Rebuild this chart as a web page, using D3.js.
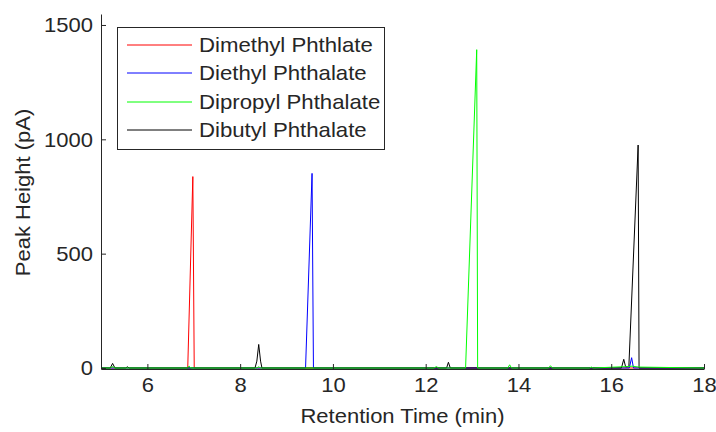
<!DOCTYPE html>
<html>
<head>
<meta charset="utf-8">
<script src="https://cdn.jsdelivr.net/npm/d3@7"></script>
<style>
  html, body { margin: 0; padding: 0; background: #fff; }
  svg { display: block; }
  text { font-family: "Liberation Sans", Arial, Helvetica, sans-serif; fill: #262626; }
</style>
</head>
<body>
<svg id="chart" width="716" height="432"></svg>
<script>
// ---- Data (retention time in min, peak height in pA) ----
const seriesNames = ["Dimethyl Phthlate", "Diethyl Phthalate", "Dipropyl Phthalate", "Dibutyl Phthalate"];
const seriesColors = ["#ff0000", "#0000ff", "#00ff00", "#000000"];

const dimethylTime = [5.0, 6.87, 6.98, 7.01, 18.0];
const dimethylPA   = [0,   0,    837,  0,    0];

const diethylTime = [5.0, 9.41, 9.55, 9.58, 16.39, 16.44, 16.48, 18.0];
const diethylPA   = [0,   0,    851,  0,    0,     45,    0,     0];

const dipropylTime = [5.0, 5.2, 5.25, 5.3, 6.86, 6.9, 6.94, 8.36, 8.4, 8.44, 12.18, 12.23, 12.28,
                      12.86, 13.10, 13.12, 13.77, 13.81, 13.85, 14.65, 14.69, 14.73, 15.53, 15.57, 15.61,
                      16.33, 16.45, 16.6, 18.0];
const dipropylPA   = [0,   0,   6,    0,   0,    8,   0,    0,    5,   0,    0,     6,     0,
                      0,     1392,  0,     0,     14,    0,     0,     10,    0,     0,     4,     0,
                      6,     8,     4,    0];

const dibutylTime = [5.0, 5.2, 5.25, 5.3, 5.53, 5.57, 5.61, 8.32, 8.36, 8.40, 8.44, 8.47,
                     12.45, 12.49, 12.53, 16.22, 16.27, 16.31, 16.38, 16.58, 16.60, 18.0];
const dibutylPA   = [0,   0,   20,   0,   0,    5,    0,    0,    30,   103,  30,   0,
                     0,     25,    0,     0,     38,    5,     6,     975,   0,     0];

const xTicks = [6, 8, 10, 12, 14, 16, 18];
const yTicks = [0, 500, 1000, 1500];

const xLabel = "Retention Time (min)";
const yLabel = "Peak Height (pA)";

// ---- Build series ----
const series = [
  {name: seriesNames[0], color: seriesColors[0], t: dimethylTime, v: dimethylPA},
  {name: seriesNames[1], color: seriesColors[1], t: diethylTime,  v: diethylPA},
  {name: seriesNames[2], color: seriesColors[2], t: dipropylTime, v: dipropylPA},
  {name: seriesNames[3], color: seriesColors[3], t: dibutylTime,  v: dibutylPA}
].map(s => ({...s, pts: s.t.map((t, i) => [t, s.v[i]])}));

// ---- Layout ----
const svg = d3.select("#chart");
const mLeft = 101, mRight = 704, mTop = 14, mBottom = 369;
const axisColor = "#262626";
const fontSize = 20;
const sx = 1.1;      // horizontal glyph stretch to mimic the reference font
const sxLeg = 1.11;

const x = d3.scaleLinear().domain([5, 18]).range([mLeft, mRight]);
const y = d3.scaleLinear().domain([-4.4, 1548]).range([mBottom, mTop]);

// ---- Lines (drawn: red, blue, black, green so green shows on baseline) ----
const line = d3.line().x(d => x(d[0])).y(d => y(d[1]));
const drawOrder = [0, 1, 3, 2];
const plot = svg.append("g");
drawOrder.forEach(i => {
  plot.append("path")
    .datum(series[i].pts)
    .attr("fill", "none")
    .attr("stroke", series[i].color)
    .attr("stroke-width", 1)
    .attr("stroke-linejoin", "miter")
    .attr("d", line);
});

// ---- Axes ----
const xAxis = d3.axisBottom(x).tickValues(xTicks).tickSize(0).tickPadding(0).tickFormat(d3.format("d"));
const gx = svg.append("g").attr("transform", `translate(0,${mBottom})`).call(xAxis);
gx.select(".domain").attr("stroke", axisColor).attr("stroke-width", 1);
gx.selectAll(".tick text").attr("font-size", fontSize).attr("dy", "0").attr("y", 23)
  .attr("transform", `scale(${sx},1)`)
  .attr("fill", axisColor).style("font-family", "'Liberation Sans', Arial, sans-serif");
gx.selectAll(".tick").append("line").attr("y1", 0).attr("y2", -5).attr("stroke", axisColor);

const yAxis = d3.axisLeft(y).tickValues(yTicks).tickSize(0).tickPadding(0).tickFormat(d3.format("d"));
const gy = svg.append("g").attr("transform", `translate(${mLeft},0)`).call(yAxis);
gy.select(".domain").attr("stroke", axisColor).attr("stroke-width", 1);
gy.selectAll(".tick text").attr("font-size", fontSize).attr("x", -8 / sx).attr("dy", "0.35em")
  .attr("transform", `scale(${sx},1)`)
  .attr("fill", axisColor).style("font-family", "'Liberation Sans', Arial, sans-serif");
gy.selectAll(".tick").append("line").attr("x1", 0).attr("x2", 5).attr("stroke", axisColor);

// ---- Axis labels ----
svg.append("text")
  .attr("transform", `translate(${(mLeft + mRight) / 2},423) scale(${sx},1)`)
  .attr("text-anchor", "middle").attr("font-size", fontSize)
  .text(xLabel);
svg.append("text")
  .attr("transform", `translate(30,${(mTop + mBottom) / 2 + 1}) rotate(-90) scale(${sx},1)`)
  .attr("text-anchor", "middle").attr("font-size", fontSize)
  .text(yLabel);

// ---- Legend ----
const lg = svg.append("g");
lg.append("rect").attr("x", 117.5).attr("y", 27.5).attr("width", 267).attr("height", 122)
  .attr("fill", "#fff").attr("stroke", axisColor).attr("stroke-width", 1);
const rowY = [45, 73, 102, 130];
series.forEach((s, i) => {
  lg.append("line").attr("x1", 127).attr("x2", 192).attr("y1", rowY[i]).attr("y2", rowY[i])
    .attr("stroke", s.color).attr("stroke-width", 1);
  lg.append("text")
    .attr("transform", `translate(199,${rowY[i]}) scale(${sxLeg},1)`)
    .attr("dy", "0.35em")
    .attr("font-size", fontSize).text(s.name);
});
</script>
</body>
</html>
